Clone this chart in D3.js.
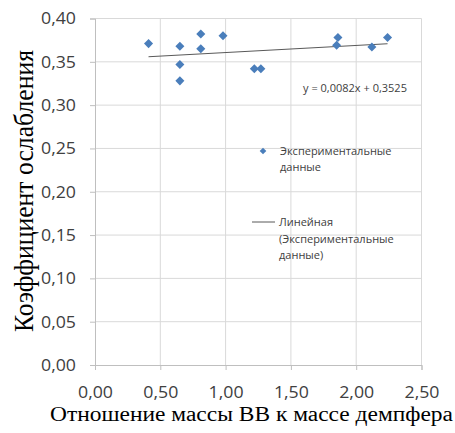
<!DOCTYPE html>
<html>
<head>
<meta charset="utf-8">
<script src="https://cdn.jsdelivr.net/npm/d3@7"></script>
<style>
  body { margin: 0; background: #fff; }
</style>
</head>
<body>
<div id="chart"></div>
<script>
// data
const ratio = [0.41, 0.65, 0.65, 0.65, 0.81, 0.81, 0.98, 1.22, 1.27, 1.85, 1.86, 2.12, 2.24]
const coef  = [0.371, 0.368, 0.347, 0.328, 0.382, 0.365, 0.380, 0.342, 0.342, 0.369, 0.378, 0.367, 0.378]
const xTicks = [0, 0.5, 1, 1.5, 2, 2.5]
const yTicks = [0, 0.05, 0.1, 0.15, 0.2, 0.25, 0.3, 0.35, 0.4]
const slope = 0.0082
const intercept = 0.3525

let width = 455
let height = 433
const fmt = v => d3.format(".2f")(v).replace(".", ",")

let x = d3.scaleLinear().domain([0, 2.5]).range([95, 421.5])
let y = d3.scaleLinear().domain([0, 0.4]).range([365, 18.5])

let svg = d3.select("#chart").append("svg")
  .attr("width", width)
  .attr("height", height)

// gridlines
svg.append("g")
  .selectAll("line.hg")
  .data(yTicks.slice(1))
  .enter().append("line")
  .attr("x1", x(0)).attr("x2", x(2.5))
  .attr("y1", d => y(d)).attr("y2", d => y(d))
  .attr("stroke", "#d9d9d9")

svg.append("g")
  .selectAll("line.vg")
  .data(xTicks.slice(1))
  .enter().append("line")
  .attr("x1", d => x(d)).attr("x2", d => x(d))
  .attr("y1", y(0)).attr("y2", y(0.4))
  .attr("stroke", "#d9d9d9")

// axes
let xAxis = svg.append("g")
  .attr("transform", `translate(0,${y(0)})`)
  .call(d3.axisBottom(x).tickValues(xTicks).tickFormat(fmt).tickSize(5).tickPadding(16))
let yAxis = svg.append("g")
  .attr("transform", `translate(${x(0)},0)`)
  .call(d3.axisLeft(y).tickValues(yTicks).tickFormat(fmt).tickSize(5).tickPadding(14))

svg.selectAll(".domain").attr("stroke", "#bfbfbf")
svg.selectAll(".tick line").attr("stroke", "#bfbfbf")
svg.selectAll(".tick text")
  .attr("fill", "#404040")
  .attr("textLength", 35)
  .attr("lengthAdjust", "spacingAndGlyphs")
  .style("font-family", "'Open Sans', sans-serif")
  .style("font-size", "17px")

// trend line
let tx = d3.extent(ratio)
svg.append("line")
  .attr("x1", x(tx[0])).attr("y1", y(slope * tx[0] + intercept))
  .attr("x2", x(tx[1])).attr("y2", y(slope * tx[1] + intercept))
  .attr("stroke", "#595959")
  .attr("stroke-width", 1)

// points
svg.append("g")
  .selectAll("path")
  .data(ratio.map((d, i) => [d, coef[i]]))
  .enter().append("path")
  .attr("d", d3.symbol().type(d3.symbolDiamond2).size(52))
  .attr("transform", d => `translate(${x(d[0])},${y(d[1])})`)
  .attr("fill", "#4a7ebb")

// equation
svg.append("text")
  .attr("x", 355).attr("y", 92)
  .attr("text-anchor", "middle")
  .attr("fill", "#404040")
  .style("font-family", "'Open Sans', sans-serif")
  .style("font-size", "11px")
  .text("y = 0,0082x + 0,3525")

// legend
let legend = svg.append("g")
  .style("font-family", "'Open Sans', sans-serif")
  .style("font-size", "11px")
  .attr("fill", "#404040")

legend.append("path")
  .attr("d", d3.symbol().type(d3.symbolDiamond2).size(28))
  .attr("transform", "translate(263,151)")
  .attr("fill", "#4a7ebb")
legend.append("text").attr("x", 280).attr("y", 155).text("Экспериментальные")
legend.append("text").attr("x", 280).attr("y", 171).text("данные")

legend.append("line")
  .attr("x1", 252).attr("x2", 275).attr("y1", 222).attr("y2", 222)
  .attr("stroke", "#595959")
legend.append("text").attr("x", 279).attr("y", 226).text("Линейная")
legend.append("text").attr("x", 279).attr("y", 243).text("(Экспериментальные")
legend.append("text").attr("x", 279).attr("y", 259).text("данные)")

// axis titles
svg.append("text")
  .attr("x", 50).attr("y", 421)
  .attr("textLength", 403)
  .attr("lengthAdjust", "spacingAndGlyphs")
  .style("font-family", "'Liberation Serif', serif")
  .style("font-size", "20px")
  .text("Отношение массы ВВ к массе демпфера")

svg.append("text")
  .attr("transform", "translate(33,332) rotate(-90)")
  .attr("textLength", 282)
  .attr("lengthAdjust", "spacingAndGlyphs")
  .style("font-family", "'Liberation Serif', serif")
  .style("font-size", "27px")
  .text("Коэффициент ослабления")
</script>
</body>
</html>
